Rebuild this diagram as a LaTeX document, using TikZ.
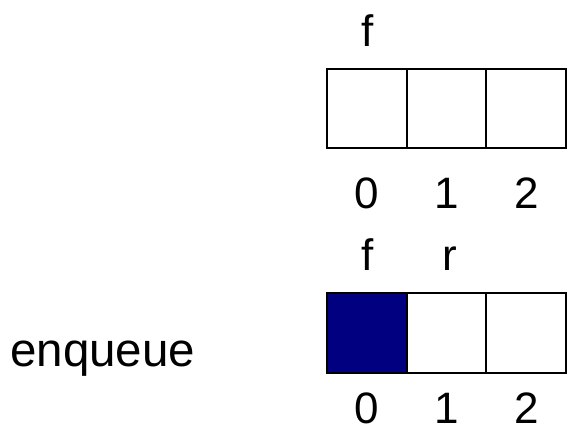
\documentclass[tikz,border=0pt]{standalone}
\usepackage{fontspec}
\setmainfont{Liberation Sans}
\definecolor{navyfill}{HTML}{000080}
\begin{document}
\begin{tikzpicture}[x=1pt,y=1pt,
  cell/.style={draw=black,line width=2pt,minimum width=79.5pt,minimum height=79.5pt,inner sep=0pt,outer sep=0pt,anchor=south west},
  lbl/.style={font=\fontsize{44}{44}\selectfont,anchor=base,inner sep=0pt},
  big/.style={font=\fontsize{47.5}{47.5}\selectfont,anchor=base west,inner sep=0pt}]
\useasboundingbox (0,0) rectangle (567,437);
% top row
\node[cell] (a0) at (327,288.5) {};
\node[cell] (a1) at (406.5,288.5) {};
\node[cell] (a2) at (486,288.5) {};
\node[lbl] (af) at (368,390.3) {f};
\node[lbl] (ad0) at (366.7,229) {0};
\node[lbl] (ad1) at (446.5,229) {1};
\node[lbl] (ad2) at (526.5,229) {2};
% bottom row
\node[cell,fill=navyfill] (b0) at (327,64.3) {};
\node[cell] (b1) at (406.5,64.3) {};
\node[cell] (b2) at (486,64.3) {};
\node[lbl] (bf) at (368,167) {f};
\node[lbl] (br) at (450,167) {r};
\node[lbl] (bd0) at (366.7,14) {0};
\node[lbl] (bd1) at (446.5,14) {1};
\node[lbl] (bd2) at (526.5,14) {2};
\node[big] (enq) at (10,70.3) {enqueue};
\end{tikzpicture}
\end{document}
